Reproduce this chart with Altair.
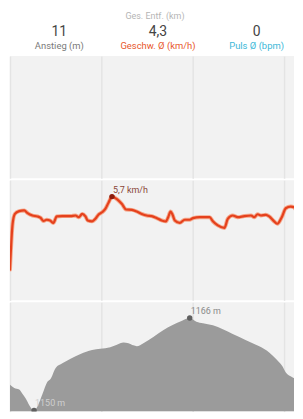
import altair as alt
import pandas as pd

# ---- data ----
speed_km = [0, 0.029, 0.054, 0.101, 0.156, 0.193, 0.247, 0.301, 0.337, 0.367,
            0.403, 0.439, 0.476, 0.512, 0.574, 0.664, 0.718, 0.754, 0.791, 0.827,
            0.852, 0.900, 0.936, 0.972, 1.009, 1.045, 1.081, 1.118, 1.172, 1.227,
            1.273, 1.336, 1.390, 1.444, 1.499, 1.553, 1.607, 1.662, 1.709, 1.734,
            1.760, 1.782, 1.807, 1.861, 1.916, 1.970, 2.006, 2.079, 2.188, 2.224,
            2.278, 2.351, 2.387, 2.441, 2.496, 2.569, 2.642, 2.678, 2.714, 2.751,
            2.805, 2.841, 2.895, 2.931, 2.979, 3.023, 3.077, 3.113, 3.149, 3.186, 3.2]
speed_kmh = [1.69, 4.21, 4.75, 4.90, 4.94, 4.79, 4.66, 4.61, 4.53, 4.36,
             4.43, 4.39, 4.25, 4.61, 4.63, 4.63, 4.66, 4.57, 4.75, 4.61,
             4.39, 4.34, 4.48, 4.72, 4.84, 5.02, 5.38, 5.70, 5.56, 5.29,
             4.99, 4.97, 4.88, 4.75, 4.66, 4.63, 4.52, 4.39, 4.34, 4.57,
             4.88, 4.70, 4.39, 4.26, 4.43, 4.43, 4.52, 4.57, 4.57, 4.34,
             4.12, 3.98, 4.48, 4.66, 4.57, 4.63, 4.66, 4.57, 4.73, 4.66,
             4.70, 4.61, 4.34, 4.21, 4.57, 5.06, 5.15, 5.11, 4.88, 4.75, 4.72]

elev_km = [0, 0.047, 0.101, 0.138, 0.174, 0.210, 0.264, 0.301, 0.356, 0.410,
           0.446, 0.501, 0.574, 0.664, 0.773, 0.900, 0.990, 1.099, 1.172, 1.244,
           1.299, 1.353, 1.390, 1.462, 1.571, 1.679, 1.788, 1.880, 1.970, 2.043,
           2.115, 2.224, 2.333, 2.441, 2.587, 2.732, 2.841, 2.914, 2.986, 3.023,
           3.094, 3.186, 3.2]
elev_m = [1154.43, 1153.90, 1153.63, 1152.83, 1152.03, 1150.96, 1150.0, 1150.70, 1152.83, 1154.96,
          1155.50, 1157.36, 1158.16, 1158.96, 1159.76, 1160.46, 1160.67, 1160.94, 1161.36, 1161.74,
          1161.63, 1161.26, 1161.10, 1161.63, 1162.70, 1163.87, 1164.83, 1165.47, 1166.0, 1165.36,
          1165.10, 1164.72, 1164.03, 1163.23, 1162.16, 1161.10, 1160.03, 1158.96, 1157.63, 1156.56,
          1155.76, 1154.96, 1154.85]

grid_km = [0, 1, 2, 3]

speed_peak_km = [1.118]
speed_peak = [5.7]
speed_peak_label = ["5,7 km/h"]

elev_max_km = [1.970]
elev_max = [1166]
elev_max_label = ["1166 m"]
elev_min_km = [0.264]
elev_min = [1150]
elev_min_label = ["1150 m"]

header_cols = ["a", "b", "c"]
header_values = ["11", "4,3", "0"]
header_labels = ["Anstieg (m)", "Geschw. Ø (km/h)", "Puls Ø (bpm)"]
header_colors = ["#7a7a7a", "#e8572c", "#3db8d8"]
header_top = ["Ges. Entf. (km)"]

FONT = "Roboto"
W = 286
BG = "#f2f2f2"

x_scale = alt.Scale(domain=[0, 3.113], nice=False, zero=False)
x_axis = alt.Axis(values=grid_km, grid=True, gridColor="#e4e4e4", gridWidth=1.5,
                  labels=False, ticks=False, domain=False, title=None)
X = alt.X("km:Q", scale=x_scale, axis=x_axis)

# ---- header ----
hdf = pd.DataFrame({"col": header_cols, "value": header_values,
                    "label": header_labels, "color": header_colors})
hx = alt.X("col:N", scale=alt.Scale(domain=header_cols, range=[0, 298],
                                    paddingInner=0, paddingOuter=0), axis=None)
hbase = alt.Chart(hdf)
h_values = hbase.mark_text(font=FONT, fontSize=14, color="#444444", baseline="middle").encode(
    x=hx, y=alt.value(22), text="value:N")
h_labels = hbase.mark_text(font=FONT, fontSize=9.5, baseline="middle").encode(
    x=hx, y=alt.value(35.5), text="label:N",
    color=alt.Color("color:N", scale=None))
h_top = alt.Chart(pd.DataFrame({"col": ["b"], "t": header_top})).mark_text(
    font=FONT, fontSize=9, color="#b5b5b5", baseline="bottom", dx=-3).encode(
    x=hx, y=alt.value(11), text="t:N")
header = alt.layer(h_top, h_values, h_labels).properties(width=W, height=43)

# ---- heart-rate panel (empty) ----
sdf = pd.DataFrame({"km": speed_km, "v": speed_kmh})
hr_panel = alt.Chart(sdf).mark_point(opacity=0, clip=True).encode(x=X).properties(
    width=W, height=123, view=alt.ViewBackground(fill=BG, strokeWidth=0))

# ---- speed panel ----
sy = alt.Y("v:Q", scale=alt.Scale(domain=[0, 6.6], nice=False), axis=None)
s_halo = alt.Chart(sdf).mark_line(color="#f5a88c", strokeWidth=4, interpolate="monotone",
                                  clip=True, strokeCap="round").encode(x=X, y=sy)
s_line = alt.Chart(sdf).mark_line(color="#e5411d", strokeWidth=2.2, interpolate="monotone",
                                  clip=True, strokeCap="round").encode(x=X, y=sy)
pdf = pd.DataFrame({"km": speed_peak_km, "v": speed_peak, "t": speed_peak_label})
s_dot = alt.Chart(pdf).mark_circle(size=30, color="#8c1c0c", opacity=1).encode(x=X, y=sy)
s_txt = alt.Chart(pdf).mark_text(font=FONT, fontSize=9, color="#8a4638", align="left",
                                 dx=1, dy=-7).encode(x=X, y=sy, text="t:N")
speed_panel = alt.layer(s_halo, s_line, s_dot, s_txt).properties(
    width=W, height=121, view=alt.ViewBackground(fill=BG, strokeWidth=0))

# ---- elevation panel ----
edf = pd.DataFrame({"km": elev_km, "e": elev_m})
ey = alt.Y("e:Q", scale=alt.Scale(domain=[1149.8, 1168.7], nice=False, zero=False), axis=None)
e_area = alt.Chart(edf).mark_area(color="#9b9b9b", interpolate="monotone", clip=True,
                                  opacity=1).encode(x=X, y=ey, y2=alt.datum(1149.8))
maxdf = pd.DataFrame({"km": elev_max_km, "e": elev_max, "t": elev_max_label})
mindf = pd.DataFrame({"km": elev_min_km, "e": elev_min, "t": elev_min_label})
e_max_dot = alt.Chart(maxdf).mark_circle(size=30, color="#606060", opacity=1, clip=True).encode(x=X, y=ey)
e_max_txt = alt.Chart(maxdf).mark_text(font=FONT, fontSize=9, color="#8a8a8a", align="left",
                                       dx=1, dy=-7).encode(x=X, y=ey, text="t:N")
e_min_dot = alt.Chart(mindf).mark_circle(size=30, color="#606060", opacity=1, clip=True).encode(x=X, y=ey)
e_min_txt = alt.Chart(mindf).mark_text(font=FONT, fontSize=9, color="#cfcfcf", align="left",
                                       dx=1, dy=-7).encode(x=X, y=ey, text="t:N")
elev_panel = alt.layer(e_area, e_max_dot, e_max_txt, e_min_dot, e_min_txt).properties(
    width=W, height=110, view=alt.ViewBackground(fill=BG, strokeWidth=0))

chart = alt.vconcat(header, hr_panel, speed_panel, elev_panel, spacing=2).properties(
    padding={"left": 1, "top": 0, "right": 0, "bottom": 0},
    background="white",
).configure_view(stroke="transparent").configure_concat(spacing=2)

chart.save("out.html", embed_options={"renderer": "svg", "actions": False})
